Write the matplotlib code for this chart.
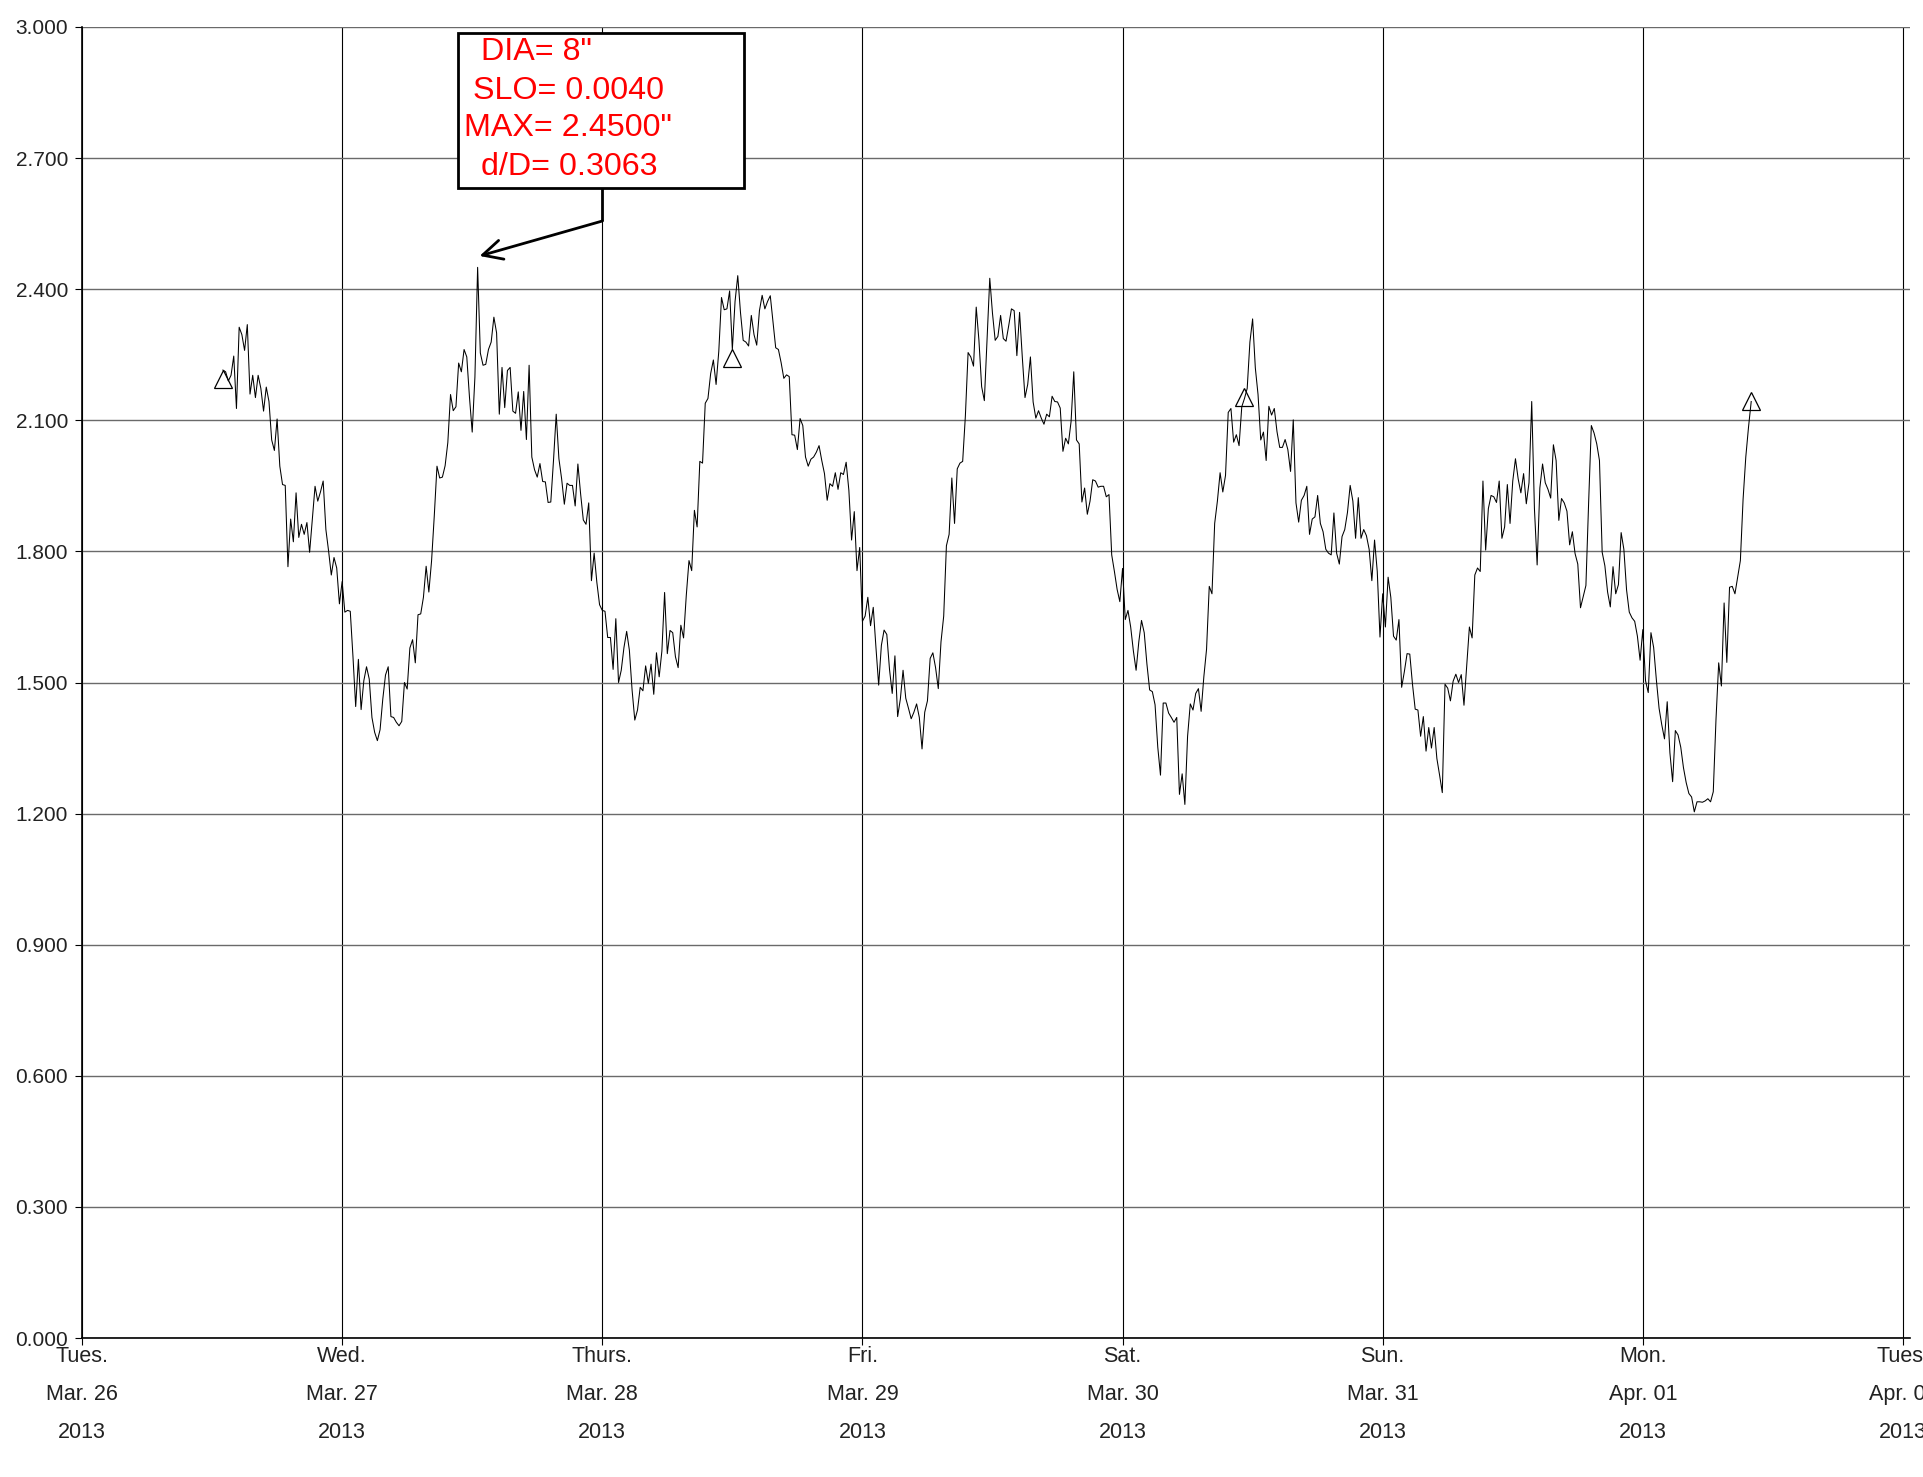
import numpy as np
import matplotlib.pyplot as plt
from matplotlib.patches import Rectangle, FancyArrowPatch

plt.rcParams['font.family'] = ['Liberation Sans', 'DejaVu Sans']

# ================== DATA ==================
# Flow depth (inches), one reading every 15 minutes, one list per calendar day
depth_mar26 = [  # starts 13:00
    2.215, 2.211, 2.190, 2.203, 2.247, 2.127, 2.313, 2.296, 2.260, 2.319,
    2.160, 2.203, 2.152, 2.203, 2.173, 2.121, 2.176, 2.143, 2.055, 2.031,
    2.103, 1.995, 1.953, 1.951, 1.765, 1.874, 1.822, 1.934, 1.832, 1.862,
    1.839, 1.866, 1.798, 1.872, 1.949, 1.915, 1.936, 1.961, 1.850, 1.801,
    1.746, 1.786, 1.762, 1.680]
depth_mar27 = [
    1.731, 1.661, 1.665, 1.663, 1.559, 1.445, 1.553, 1.438, 1.504, 1.536,
    1.508, 1.420, 1.386, 1.367, 1.392, 1.462, 1.517, 1.536, 1.422, 1.420,
    1.409, 1.401, 1.411, 1.500, 1.485, 1.579, 1.598, 1.545, 1.655, 1.657,
    1.695, 1.766, 1.707, 1.778, 1.881, 1.995, 1.968, 1.970, 1.996, 2.049,
    2.159, 2.122, 2.131, 2.231, 2.211, 2.262, 2.245, 2.152, 2.073, 2.199,
    2.450, 2.254, 2.226, 2.228, 2.262, 2.279, 2.336, 2.300, 2.114, 2.221,
    2.129, 2.214, 2.221, 2.121, 2.116, 2.165, 2.077, 2.166, 2.056, 2.226,
    2.016, 1.987, 1.970, 2.001, 1.960, 1.959, 1.912, 1.913, 2.008, 2.114,
    2.012, 1.966, 1.908, 1.956, 1.951, 1.951, 1.904, 2.000, 1.932, 1.872,
    1.862, 1.911, 1.733, 1.796, 1.729, 1.678]
depth_mar28 = [
    1.665, 1.663, 1.603, 1.603, 1.530, 1.646, 1.500, 1.528, 1.580, 1.617,
    1.574, 1.483, 1.414, 1.437, 1.489, 1.481, 1.538, 1.498, 1.542, 1.473,
    1.568, 1.513, 1.572, 1.706, 1.566, 1.619, 1.614, 1.559, 1.534, 1.631,
    1.602, 1.699, 1.779, 1.756, 1.894, 1.856, 2.006, 2.002, 2.139, 2.150,
    2.207, 2.238, 2.182, 2.258, 2.381, 2.353, 2.355, 2.396, 2.262, 2.372,
    2.431, 2.347, 2.283, 2.279, 2.270, 2.340, 2.296, 2.272, 2.351, 2.386,
    2.355, 2.372, 2.385, 2.325, 2.266, 2.262, 2.232, 2.196, 2.204, 2.200,
    2.067, 2.066, 2.033, 2.104, 2.088, 2.016, 1.995, 2.011, 2.016, 2.027,
    2.042, 2.008, 1.978, 1.917, 1.955, 1.949, 1.980, 1.942, 1.980, 1.976,
    2.004, 1.940, 1.826, 1.891, 1.756, 1.809]
depth_mar29 = [
    1.640, 1.652, 1.695, 1.630, 1.672, 1.580, 1.494, 1.585, 1.620, 1.610,
    1.530, 1.475, 1.561, 1.422, 1.462, 1.528, 1.464, 1.441, 1.417, 1.432,
    1.451, 1.420, 1.348, 1.432, 1.458, 1.555, 1.568, 1.534, 1.486, 1.593,
    1.652, 1.813, 1.839, 1.968, 1.864, 1.989, 2.002, 2.006, 2.110, 2.255,
    2.245, 2.224, 2.359, 2.283, 2.177, 2.145, 2.287, 2.425, 2.345, 2.283,
    2.292, 2.340, 2.287, 2.281, 2.317, 2.355, 2.351, 2.248, 2.347, 2.245,
    2.152, 2.182, 2.245, 2.142, 2.105, 2.122, 2.105, 2.091, 2.114, 2.108,
    2.155, 2.143, 2.142, 2.128, 2.029, 2.059, 2.046, 2.097, 2.211, 2.055,
    2.046, 1.913, 1.945, 1.885, 1.915, 1.964, 1.961, 1.947, 1.949, 1.949,
    1.925, 1.930, 1.792, 1.754, 1.713, 1.685]
depth_mar30 = [
    1.761, 1.644, 1.665, 1.627, 1.572, 1.528, 1.593, 1.642, 1.614, 1.542,
    1.483, 1.479, 1.449, 1.352, 1.288, 1.453, 1.453, 1.430, 1.420, 1.409,
    1.420, 1.244, 1.291, 1.221, 1.377, 1.451, 1.437, 1.475, 1.486, 1.434,
    1.513, 1.576, 1.720, 1.703, 1.864, 1.915, 1.980, 1.936, 1.974, 2.118,
    2.127, 2.050, 2.067, 2.042, 2.131, 2.150, 2.173, 2.279, 2.332, 2.220,
    2.159, 2.055, 2.073, 2.008, 2.132, 2.112, 2.127, 2.074, 2.038, 2.038,
    2.056, 2.033, 1.983, 2.101, 1.911, 1.867, 1.917, 1.928, 1.949, 1.839,
    1.874, 1.879, 1.928, 1.864, 1.845, 1.805, 1.796, 1.792, 1.888, 1.796,
    1.771, 1.834, 1.850, 1.889, 1.951, 1.915, 1.830, 1.923, 1.830, 1.850,
    1.836, 1.805, 1.733, 1.826, 1.754, 1.604]
depth_mar31 = [
    1.703, 1.627, 1.741, 1.695, 1.606, 1.597, 1.644, 1.489, 1.525, 1.566,
    1.565, 1.496, 1.439, 1.437, 1.377, 1.422, 1.343, 1.397, 1.350, 1.397,
    1.326, 1.288, 1.248, 1.496, 1.487, 1.458, 1.503, 1.519, 1.500, 1.518,
    1.448, 1.538, 1.627, 1.602, 1.746, 1.762, 1.754, 1.961, 1.803, 1.898,
    1.928, 1.925, 1.912, 1.961, 1.830, 1.856, 1.953, 1.864, 1.961, 2.012,
    1.966, 1.934, 1.978, 1.909, 1.957, 2.143, 1.898, 1.769, 1.945, 2.000,
    1.957, 1.942, 1.922, 2.044, 2.008, 1.871, 1.921, 1.911, 1.892, 1.815,
    1.845, 1.795, 1.771, 1.671, 1.696, 1.722, 1.911, 2.088, 2.071, 2.046,
    2.008, 1.798, 1.767, 1.707, 1.673, 1.765, 1.703, 1.724, 1.843, 1.805,
    1.712, 1.661, 1.648, 1.640, 1.606, 1.551]
depth_apr01 = [
    1.621, 1.504, 1.477, 1.614, 1.580, 1.506, 1.441, 1.403, 1.371, 1.456,
    1.339, 1.273, 1.390, 1.380, 1.352, 1.305, 1.271, 1.246, 1.238, 1.204,
    1.227, 1.227, 1.226, 1.229, 1.234, 1.227, 1.250, 1.415, 1.545, 1.492,
    1.682, 1.546, 1.718, 1.720, 1.703, 1.741, 1.779, 1.919, 2.016, 2.084,
    2.143]

start_hour = 13.0      # first reading, hours after Mar 26 00:00
step_hours = 0.25      # 15 minute logging interval

# flagged readings (triangles)
flag_hours = [13.0, 60.0, 107.25, 154.0]
flag_depth = [2.194, 2.243, 2.154, 2.144]

pipe_dia = 8           # inches
slope = 0.0040

day_names = ['Tues.', 'Wed.', 'Thurs.', 'Fri.', 'Sat.', 'Sun.', 'Mon.', 'Tues.']
day_dates = ['Mar. 26', 'Mar. 27', 'Mar. 28', 'Mar. 29', 'Mar. 30',
             'Mar. 31', 'Apr. 01', 'Apr. 02']
year = '2013'

# ================== SERIES ==================
depth = np.concatenate([depth_mar26, depth_mar27, depth_mar28, depth_mar29,
                        depth_mar30, depth_mar31, depth_apr01])
hours = start_hour + step_hours * np.arange(len(depth))
i_max = int(np.argmax(depth))
max_depth = depth[i_max]

# ================== PLOT ==================
W, H = 1923, 1477
fig = plt.figure(figsize=(W / 100, H / 100), dpi=100)
ax = fig.add_axes([82 / W, 1 - 1338 / H, 1828 / W, 1311 / H])

ax.plot(hours, depth, color='black', lw=0.75, zorder=3)
ax.plot(flag_hours, flag_depth, ls='none', marker='^', ms=13,
        mfc='none', mec='black', mew=0.9, zorder=4)

ax.set_xlim(0, 168.65)
ax.set_ylim(0, 3.0)
ax.set_yticks(np.arange(0, 3.01, 0.3))
ax.set_yticklabels([f'{v:.3f}' for v in np.arange(0, 3.01, 0.3)])
ax.set_xticks(np.arange(0, 169, 24))
ax.set_xticklabels([f'{n}\n{d}\n{year}' for n, d in zip(day_names, day_dates)],
                   linespacing=2.05)

ax.yaxis.grid(True, color='#6a6a6a', lw=1.0, zorder=0)
ax.xaxis.grid(True, color='black', lw=0.8, zorder=0)
ax.set_axisbelow(True)
for s in ('top', 'right'):
    ax.spines[s].set_visible(False)
ax.spines['left'].set_linewidth(1.2)
ax.spines['bottom'].set_linewidth(1.2)
ax.tick_params(axis='y', length=5, width=0.8, pad=5, labelsize=15,
               labelcolor='#222222')
ax.tick_params(axis='x', length=5, width=0.8, pad=1, labelsize=15.5,
               labelcolor='#222222')

# ================== ANNOTATION ==================
box = Rectangle((34.65, 2.632), 26.45, 0.354, facecolor='white',
                edgecolor='black', lw=2.0, zorder=5)
ax.add_patch(box)
lines = [(36.84, 2.942, f'DIA= {pipe_dia}"'),
         (36.06, 2.854, f'SLO= {slope:.4f}'),
         (35.20, 2.768, f'MAX= {max_depth:.4f}"'),
         (36.84, 2.680, f'd/D= {max_depth / pipe_dia:.4f}')]
for x, y, s in lines:
    ax.text(x, y, s, color='red', fontsize=23.2, ha='left', va='center',
            zorder=6)

ax.plot([48, 48], [2.632, 2.556], color='black', lw=2.0, zorder=5,
        solid_capstyle='butt')
arrow = FancyArrowPatch((48, 2.556), (hours[i_max] + 0.18, max_depth + 0.026),
                        arrowstyle='->,head_length=0.7,head_width=0.35',
                        mutation_scale=20, lw=2.0, color='black',
                        shrinkA=0, shrinkB=0, zorder=5)
ax.add_patch(arrow)

fig.savefig('out.png', dpi=100)
